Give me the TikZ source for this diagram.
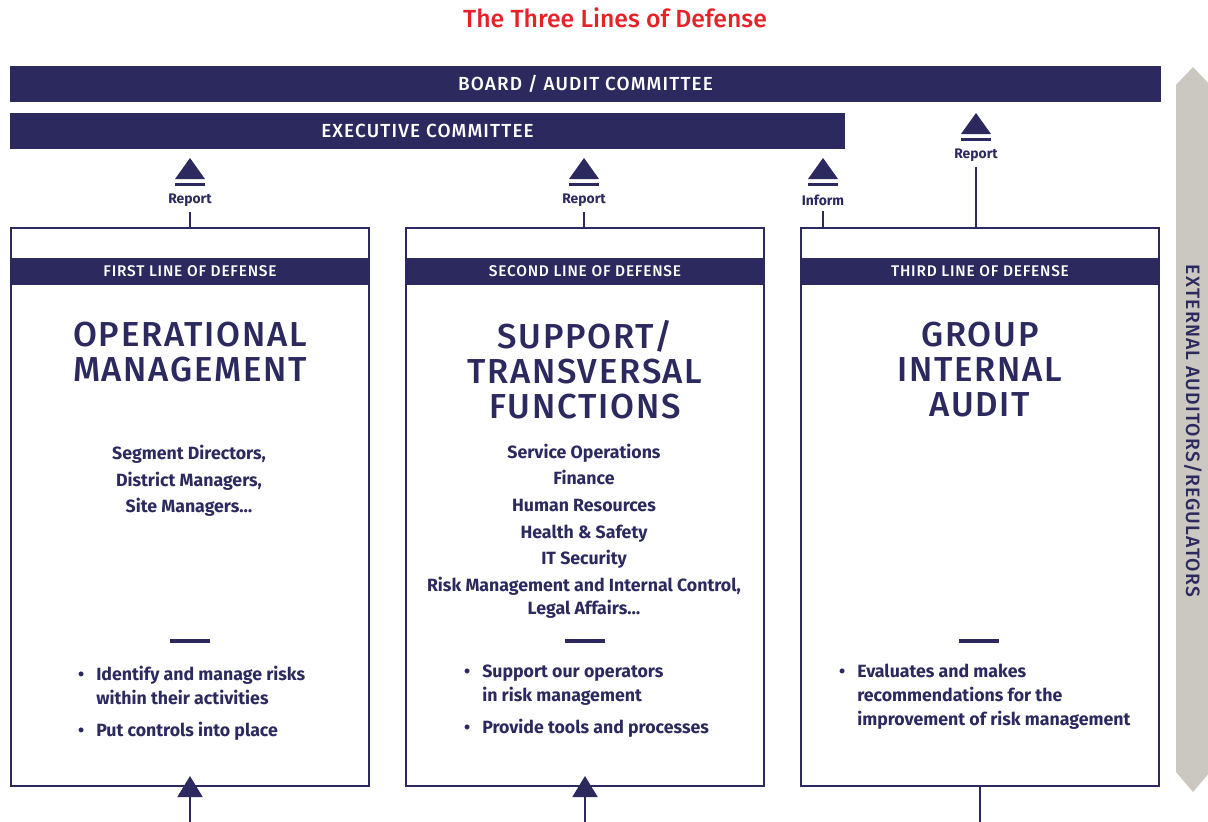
\documentclass[tikz,border=0pt]{standalone}
\usepackage{fontspec}
\setmainfont{Fira Sans}
\newfontfamily\medfont{Fira Sans Medium}
\usetikzlibrary{arrows.meta,positioning,calc}

\definecolor{navy}{RGB}{43,41,94}
\definecolor{defred}{RGB}{230,34,40}
\definecolor{sidegray}{RGB}{203,199,193}

\begin{document}
\begin{tikzpicture}[
    x=0.75pt, y=-0.75pt,
    >={Triangle[width=18.75pt,length=15.75pt]},
    bar/.style={fill=navy,text=white,inner sep=0pt,minimum height=27pt,
        font=\medfont\fontsize{14.2}{16}\selectfont\addfontfeatures{LetterSpace=6}},
    linebox/.style={draw=navy,line width=1.5pt,minimum width=268.5pt,
        minimum height=418.5pt,inner sep=0pt},
    headband/.style={fill=navy,text=white,inner sep=0pt,minimum width=270pt,
        minimum height=20.25pt,font=\medfont\fontsize{11.6}{13}\selectfont\addfontfeatures{LetterSpace=5}},
    bigtitle/.style={text=navy,align=center,
        font=\medfont\fontsize{26}{26.25}\selectfont\addfontfeatures{LetterSpace=5}},
    bodytext/.style={text=navy,align=center,font=\bfseries\fontsize{13.3}{20}\selectfont},
    listtext/.style={text=navy,align=left,anchor=west,inner sep=0pt,
        font=\bfseries\fontsize{13.3}{18}\selectfont},
    reptext/.style={text=navy,inner sep=1pt,font=\bfseries\fontsize{10.4}{12}\selectfont},
    link/.style={draw=navy,line width=1.5pt},
    dashbar/.style={fill=navy,minimum width=30pt,minimum height=3pt,inner sep=0pt},
]

\useasboundingbox (0,0) rectangle (1208,822);

% =====================================================
% Title and committees
% =====================================================

\node[text=defred,font=\medfont\fontsize{18.6}{21}\selectfont] (title) at (615,18)
    {The Three Lines of Defense};

\node[bar,minimum width=863.25pt] (board) at (585.5,84) {BOARD / AUDIT COMMITTEE};
\node[bar,minimum width=626.25pt] (exec) at (427.5,131) {EXECUTIVE COMMITTEE};

% side arrow
\fill[sidegray] (1176,85) -- (1193,67) -- (1210,85) -- (1210,772)
    -- (1193,792) -- (1176,772) -- cycle;
\node[rotate=-90,text=navy,font=\medfont\fontsize{14.5}{16}\selectfont\addfontfeatures{LetterSpace=6}]
    (ext) at (1193,431) {EXTERNAL AUDITORS/REGULATORS};

% =====================================================
% The three boxes
% =====================================================

\node[linebox] (first) at (190,507) {};
\node[linebox] (second) at (585,507) {};
\node[linebox] (third) at (980,507) {};

\node[headband] (firsthead) at (first.north |- 0,271.5) {FIRST LINE OF DEFENSE};
\node[headband] (secondhead) at (second.north |- 0,271.5) {SECOND LINE OF DEFENSE};
\node[headband] (thirdhead) at (third.north |- 0,271.5) {THIRD LINE OF DEFENSE};

\node[bigtitle] (optitle) at (190,352) {OPERATIONAL\\MANAGEMENT};
\node[bigtitle] (suptitle) at (585,370) {SUPPORT/\\TRANSVERSAL\\FUNCTIONS};
\node[bigtitle] (audtitle) at (980,370) {GROUP\\INTERNAL\\AUDIT};

\node[bodytext] (opwho) at (189,481) {Segment Directors,\\District Managers,\\Site Managers\dots};
\node[bodytext] (supwho) at (584,531) {Service Operations\\Finance\\Human Resources\\
    Health \& Safety\\IT Security\\Risk Management and Internal Control,\\[-3pt]Legal Affairs\dots};

\node[dashbar] (dash1) at (190,641) {};
\node[dashbar] (dash2) at (585,641) {};
\node[dashbar] (dash3) at (979,641) {};

\node[listtext] (oplist) at (96,703.5)
    {\llap{\textbullet\hspace{9pt}}Identify and manage risks\\within their activities\\[6pt]
     \llap{\textbullet\hspace{9pt}}Put controls into place};
\node[listtext] (suplist) at (482,701)
    {\llap{\textbullet\hspace{9pt}}Support our operators\\in risk management\\[6pt]
     \llap{\textbullet\hspace{9pt}}Provide tools and processes};
\node[listtext] (audlist) at (857,697)
    {\llap{\textbullet\hspace{9pt}}Evaluates and makes\\recommendations for the\\
     improvement of risk management};

% =====================================================
% Report / inform markers
% =====================================================

\foreach \nm/\xx/\yy/\txt in {rep1/190/200/Report, rep2/584/200/Report,
                              inf3/823/200/Inform, rep3/976/155/Report}{
    \node[reptext] (\nm) at (\xx,\yy) {\txt};
    \fill[navy] (\xx-15,\yy-21) -- (\xx,\yy-42) -- (\xx+15,\yy-21) -- cycle;
    \fill[navy] (\xx-15,\yy-17) rectangle (\xx+15,\yy-14);
}

\draw[link,shorten <=3pt] (rep1.south) -- (rep1.south |- first.north);
\draw[link,shorten <=3pt] (rep2.south) -- (rep2.south |- second.north);
\draw[link,shorten <=3pt] (inf3.south) -- (inf3.south |- third.north);
\draw[link,shorten <=3pt] (rep3.south) -- (rep3.south |- third.north);

% inputs from below
\coordinate (in1) at (190,822);
\coordinate (in2) at (585,822);
\coordinate (in3) at (980,822);

\draw[link,->] (in1) -- ([yshift=8.25pt]first.south);
\draw[link,->] (in2) -- ([yshift=8.25pt]second.south);
\draw[link] (in3) -- (third.south);

\end{tikzpicture}
\end{document}
